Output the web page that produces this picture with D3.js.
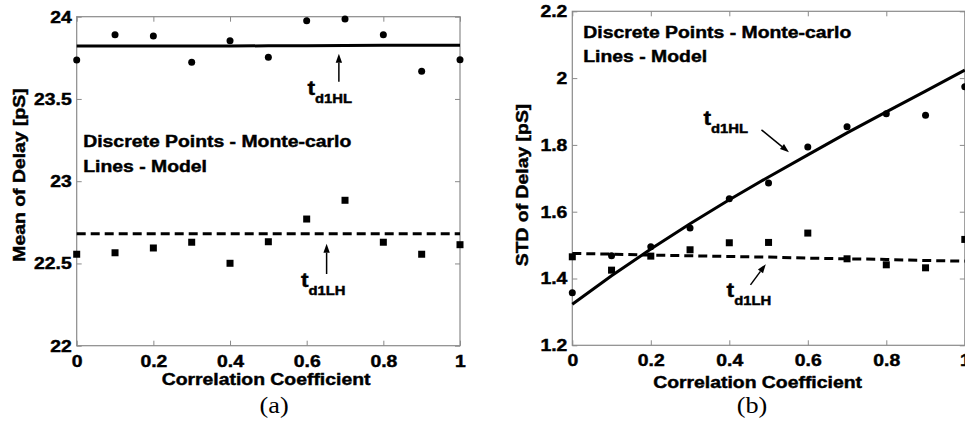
<!DOCTYPE html>
<html>
<head>
<meta charset="utf-8">
<script src="https://cdn.jsdelivr.net/npm/d3@7"></script>
<style>
  body { margin: 0; background: #fff; }
  svg { display: block; font-family: "Liberation Sans", Arial, sans-serif; }
  .lbl { font-weight: bold; fill: #000; stroke: #000; stroke-width: 0.45px; }
</style>
</head>
<body>
<svg id="fig" width="965" height="427"></svg>
<script>
// correlation coefficient (x) shared by both panels
const corr = [0, 0.1, 0.2, 0.3, 0.4, 0.5, 0.6, 0.7, 0.8, 0.9, 1];

// (a) mean of delay [pS]
const meanHLmc    = [23.737, 23.890, 23.883, 23.723, 23.854, 23.753, 23.976, 23.986, 23.890, 23.668, 23.739];
const meanLHmc    = [22.556, 22.565, 22.594, 22.629, 22.501, 22.632, 22.770, 22.884, 22.629, 22.556, 22.614];
const meanHLmodel = [23.822, 23.822, 23.822, 23.822, 23.822, 23.823, 23.824, 23.825, 23.826, 23.826, 23.826];
const meanLHmodel = [22.681, 22.681, 22.681, 22.681, 22.681, 22.681, 22.681, 22.681, 22.681, 22.681, 22.681];
const meanTicks   = [22, 22.5, 23, 23.5, 24];

// (b) STD of delay [pS]
const stdHLmc    = [1.357, 1.468, 1.495, 1.551, 1.639, 1.686, 1.794, 1.854, 1.893, 1.889, 1.974];
const stdLHmc    = [1.465, 1.425, 1.467, 1.486, 1.507, 1.508, 1.536, 1.459, 1.441, 1.432, 1.517];
const stdHLmodel = [1.323, 1.408, 1.488, 1.564, 1.636, 1.704, 1.770, 1.836, 1.899, 1.961, 2.024];
const stdLHmodel = [1.475, 1.473, 1.470, 1.468, 1.466, 1.464, 1.461, 1.459, 1.457, 1.454, 1.452];
const stdTicks   = [1.2, 1.4, 1.6, 1.8, 2, 2.2];

const xTicks = [0, 0.2, 0.4, 0.6, 0.8, 1];
const legendLines = ["Discrete Points - Monte-carlo", "Lines - Model"];

const svg = d3.select('#fig');
const SX = 1.14; // the original lettering is a little wide

function putText(g, px, py, str, size, opts) {
    opts = opts || {};
    const t = g.append('text')
        .attr('class', 'lbl')
        .attr('transform', `translate(${px},${py}) ${opts.rotate ? 'rotate(-90)' : ''} scale(${SX},1)`)
        .attr('text-anchor', opts.anchor || 'start')
        .style('font-size', size + 'px');
    if (opts.serif) t.style('font-family', '"Liberation Serif", "Times New Roman", serif')
        .style('font-weight', 'normal').style('stroke-width', '0px');
    t.text(str);
    return t;
}

function drawPanel(cfg) {
    const x = d3.scaleLinear().domain([0, 1]).range(cfg.xr);
    const y = d3.scaleLinear().domain(cfg.yd).range(cfg.yr);
    const g = svg.append('g');

    // frame
    g.append('rect')
        .attr('x', x(0)).attr('y', y(cfg.yd[1]))
        .attr('width', x(1) - x(0)).attr('height', y(cfg.yd[0]) - y(cfg.yd[1]))
        .attr('fill', 'none').attr('stroke', '#8a8a8a').attr('stroke-width', 1.2);

    // axes, ticks pointing inward
    const bottom = g.append('g').attr('transform', `translate(0,${y(cfg.yd[0])})`)
        .call(d3.axisBottom(x).tickValues(xTicks).tickSize(-5).tickPadding(9).tickFormat(d3.format('')));
    const top = g.append('g').attr('transform', `translate(0,${y(cfg.yd[1])})`)
        .call(d3.axisTop(x).tickValues(xTicks).tickSize(-5).tickFormat(''));
    const left = g.append('g').attr('transform', `translate(${x(0)},0)`)
        .call(d3.axisLeft(y).tickValues(cfg.yTicks).tickSize(-5).tickPadding(5).tickFormat(d3.format('')));
    const right = g.append('g').attr('transform', `translate(${x(1)},0)`)
        .call(d3.axisRight(y).tickValues(cfg.yTicks).tickSize(-5).tickFormat(''));
    [bottom, top, left, right].forEach(a => {
        a.select('.domain').remove();
        a.selectAll('line').attr('stroke', '#8a8a8a');
        a.selectAll('text')
            .attr('font-family', '"Liberation Sans", Arial, sans-serif')
            .attr('font-size', 17).attr('font-weight', 'bold').attr('fill', '#000')
            .attr('stroke', '#000').attr('stroke-width', 0.45)
            .attr('transform', `scale(${SX},1)`);
    });
    left.selectAll('text').attr('x', -5 / SX);

    // model lines
    const line = d3.line().x((d, i) => x(corr[i])).y(d => y(d));
    g.append('path').datum(cfg.hlModel).attr('d', line)
        .attr('fill', 'none').attr('stroke', '#000').attr('stroke-width', 3);
    g.append('path').datum(cfg.lhModel).attr('d', line)
        .attr('fill', 'none').attr('stroke', '#000').attr('stroke-width', 3)
        .attr('stroke-dasharray', '9,5');

    // monte-carlo points
    g.selectAll('.dot').data(cfg.hlMc).enter().append('circle')
        .attr('cx', (d, i) => x(corr[i])).attr('cy', d => y(d))
        .attr('r', 3.5).attr('fill', '#000');
    g.selectAll('.sq').data(cfg.lhMc).enter().append('rect')
        .attr('x', (d, i) => x(corr[i]) - 3.5).attr('y', d => y(d) - 3.5)
        .attr('width', 7).attr('height', 7).attr('fill', '#000');

    // legend text
    cfg.legend.forEach((s, i) => putText(g, x(cfg.legendPos[0]), y(cfg.legendPos[i + 1]), s, 17));

    // curve labels with arrows
    cfg.arrows.forEach(a => {
        const x0 = x(a.from[0]), y0 = y(a.from[1]), x1 = x(a.to[0]), y1 = y(a.to[1]);
        const ang = Math.atan2(y1 - y0, x1 - x0);
        const L = 9, W = 3.2;
        const bx = x1 - L * Math.cos(ang), by = y1 - L * Math.sin(ang);
        g.append('line').attr('x1', x0).attr('y1', y0).attr('x2', bx).attr('y2', by)
            .attr('stroke', '#000').attr('stroke-width', 1.5);
        g.append('path')
            .attr('d', `M${x1},${y1}L${bx - W * Math.sin(ang)},${by + W * Math.cos(ang)}L${bx + W * Math.sin(ang)},${by - W * Math.cos(ang)}Z`)
            .attr('fill', '#000');
        const t = putText(g, x(a.label[0]), y(a.label[1]), '', 20);
        t.append('tspan').text('t');
        t.append('tspan').attr('dy', 8).style('font-size', '13px').text(a.sub);
    });

    // axis titles
    putText(g, x(cfg.xTitle), cfg.xTitleY, 'Correlation Coefficient', 17, {anchor: 'middle'});
    putText(g, cfg.yTitle[0], cfg.yTitle[1], cfg.yTitleText, 17, {anchor: 'middle', rotate: true});
    putText(g, x(cfg.tag[0]), cfg.tag[1], cfg.tagText, 23, {anchor: 'middle', serif: true});
}

drawPanel({
    xr: [76.7, 460], yd: [22, 24], yr: [345.7, 16.7], yTicks: meanTicks,
    hlMc: meanHLmc, lhMc: meanLHmc, hlModel: meanHLmodel, lhModel: meanLHmodel,
    legend: legendLines, legendPos: [0.017, 23.208, 23.058],
    arrows: [
        {from: [0.684, 23.605], to: [0.684, 23.775], label: [0.602, 23.524], sub: 'd1HL'},
        {from: [0.652, 22.436], to: [0.652, 22.620], label: [0.585, 22.355], sub: 'd1LH'}
    ],
    xTitle: 0.494, xTitleY: 385,
    yTitle: [25, 175], yTitleText: 'Mean of Delay [pS]',
    tag: [0.515, 413], tagText: '(a)'
});

drawPanel({
    xr: [572.3, 964.8], yd: [1.2, 2.2], yr: [345.3, 11.3], yTicks: stdTicks,
    hlMc: stdHLmc, lhMc: stdLHmc, hlModel: stdHLmodel, lhModel: stdLHmodel,
    legend: legendLines, legendPos: [0.028, 2.12, 2.048],
    arrows: [
        {from: [0.482, 1.845], to: [0.552, 1.778], label: [0.334, 1.860], sub: 'd1HL'},
        {from: [0.454, 1.381], to: [0.493, 1.443], label: [0.393, 1.346], sub: 'd1LH'}
    ],
    xTitle: 0.472, xTitleY: 388,
    yTitle: [528, 185], yTitleText: 'STD of Delay [pS]',
    tag: [0.458, 413], tagText: '(b)'
});
</script>
</body>
</html>
